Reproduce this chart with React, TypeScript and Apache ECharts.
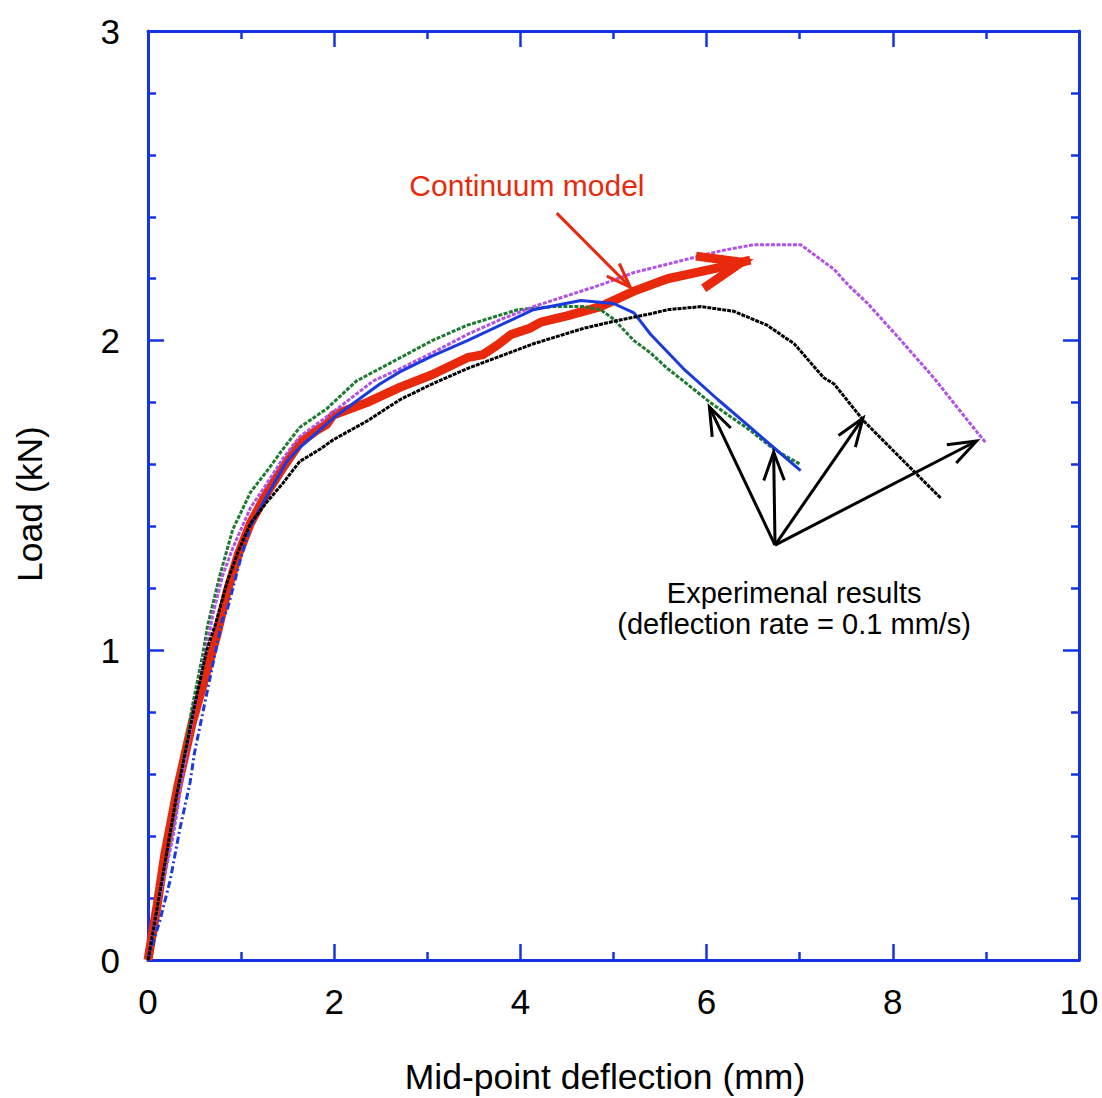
import React, { useEffect, useRef } from "react";
import * as echarts from "echarts";

// ---------- data (x: mid-point deflection mm, y: load kN) ----------
const MODEL: [number, number][] = [
  [0, 0], [0.05, 0.09], [0.1, 0.18], [0.18, 0.34], [0.32, 0.56], [0.47, 0.76], [0.61, 0.91],
  [0.74, 1.05], [0.85, 1.19], [0.97, 1.31], [1.1, 1.41], [1.28, 1.51], [1.45, 1.59], [1.63, 1.67],
  [1.81, 1.71], [1.92, 1.73], [1.99, 1.76], [2.35, 1.8], [2.71, 1.85], [3.05, 1.89], [3.43, 1.945],
  [3.6, 1.955], [3.75, 1.985], [3.9, 2.02], [4.1, 2.04], [4.22, 2.06], [4.5, 2.08], [4.86, 2.11],
  [5.22, 2.16], [5.58, 2.2], [6.12, 2.235], [6.47, 2.26],
];

const EXP_GREEN: [number, number][] = [
  [0, 0], [0.11, 0.18], [0.26, 0.4], [0.37, 0.62], [0.47, 0.81], [0.59, 0.99], [0.64, 1.08],
  [0.77, 1.24], [0.91, 1.39], [1.1, 1.51], [1.28, 1.58], [1.45, 1.65], [1.63, 1.72], [1.92, 1.78],
  [2.24, 1.87], [2.71, 1.945], [3.05, 2.0], [3.43, 2.05], [3.97, 2.1], [4.35, 2.11], [4.68, 2.11],
  [4.86, 2.1], [5.0, 2.07], [5.22, 2.0], [5.4, 1.96], [5.58, 1.91], [5.75, 1.87], [6.04, 1.8],
  [6.47, 1.71], [6.72, 1.65], [7.01, 1.6],
];

const EXP_PURPLE: [number, number][] = [
  [0, 0], [0.11, 0.18], [0.27, 0.4], [0.38, 0.61], [0.49, 0.8], [0.61, 0.98], [0.7, 1.12],
  [0.8, 1.24], [0.91, 1.33], [1.1, 1.46], [1.28, 1.54], [1.45, 1.62], [1.63, 1.69], [1.99, 1.77],
  [2.42, 1.87], [2.71, 1.91], [3.05, 1.96], [3.43, 2.02], [3.8, 2.07], [4.14, 2.11], [4.5, 2.145],
  [4.86, 2.18], [5.22, 2.22], [5.75, 2.26], [6.15, 2.29], [6.51, 2.31], [7.01, 2.31], [7.19, 2.27],
  [7.37, 2.23], [7.52, 2.18], [7.73, 2.12], [8.09, 2.0], [8.44, 1.88], [8.81, 1.74], [9.0, 1.67],
];

const EXP_BLUE_START: [number, number][] = [
  [0, 0], [0.13, 0.13], [0.24, 0.26], [0.34, 0.42], [0.45, 0.57], [0.5, 0.67], [0.61, 0.83],
  [0.7, 0.96], [0.8, 1.1], [0.85, 1.13], [0.99, 1.29], [1.1, 1.4],
];

const EXP_BLUE: [number, number][] = [
  [1.1, 1.4], [1.28, 1.5], [1.49, 1.61], [1.63, 1.655], [1.99, 1.75], [2.49, 1.86], [2.71, 1.9],
  [3.05, 1.95], [3.43, 2.0], [4.14, 2.1], [4.65, 2.13], [5.0, 2.12], [5.22, 2.09], [5.4, 2.02],
  [5.75, 1.91], [6.12, 1.81], [6.47, 1.72], [6.72, 1.655], [7.01, 1.58],
];

const EXP_BLACK: [number, number][] = [
  [0, 0], [0.1, 0.17], [0.3, 0.52], [0.5, 0.82], [0.63, 1.0], [0.72, 1.08], [0.85, 1.22],
  [0.97, 1.32], [1.1, 1.41], [1.28, 1.48], [1.45, 1.54], [1.63, 1.61], [1.85, 1.65], [1.99, 1.68],
  [2.35, 1.74], [2.71, 1.81], [3.05, 1.86], [3.43, 1.91], [4.14, 1.99], [4.68, 2.04], [5.04, 2.065],
  [5.4, 2.087], [5.58, 2.1], [5.94, 2.11], [6.29, 2.095], [6.65, 2.05], [6.94, 1.99], [7.26, 1.88],
  [7.37, 1.86], [7.69, 1.74], [8.12, 1.61], [8.52, 1.49],
];

// annotation anchors (data coordinates)
const MODEL_LABEL_POS: [number, number] = [4.07, 2.5];
const MODEL_POINTER: [[number, number], [number, number]] = [[4.39, 2.412], [5.18, 2.173]];
const EXP_LABEL_POS: [number, number] = [6.94, 1.136];
const EXP_ORIGIN: [number, number] = [6.735, 1.34];
const EXP_TIPS: [number, number][] = [[6.03, 1.786], [6.72, 1.64], [7.68, 1.75], [8.9, 1.676]];

const X_NAME = "Mid-point deflection (mm)";
const Y_NAME = "Load (kN)";
const MODEL_LABEL = "Continuum model";
const EXP_LABEL = "Experimenal results\n(deflection rate = 0.1 mm/s)";

const AXIS_BLUE = "#1434e4";
const RED = "#e8290b";
const FONT = '"Liberation Sans", Arial, Helvetica, sans-serif';

function axis(pos: string, labels: boolean, range: any, split: number, margin: number) {
  return {
    type: "value",
    position: pos,
    ...range,
    axisLine: { show: true, onZero: false, lineStyle: { color: AXIS_BLUE, width: 3 } },
    axisTick: { show: true, inside: true, length: 16, lineStyle: { color: AXIS_BLUE, width: 2.5 } },
    minorTick: { show: true, splitNumber: split, length: 8, lineStyle: { color: AXIS_BLUE, width: 2.5 } },
    splitLine: { show: false },
    minorSplitLine: { show: false },
    axisLabel: { show: labels, color: "#000", fontSize: 35, fontFamily: FONT, margin },
  };
}

export default function App() {
  const ref = useRef<HTMLDivElement>(null);

  useEffect(() => {
    document.body.style.margin = "0";
    const chart = echarts.init(ref.current!, null, { renderer: "svg" });

    const xRange = { min: 0, max: 10, interval: 2 };
    const yRange = { min: 0, max: 3, interval: 1 };

    const option: any = {
      animation: false,
      backgroundColor: "#fff",
      grid: { left: 148, right: 23, top: 31, bottom: 138, containLabel: false, outerBoundsMode: "none" },
      xAxis: [axis("bottom", true, xRange, 2, 24), axis("top", false, xRange, 2, 8)],
      yAxis: [axis("left", true, yRange, 5, 28), axis("right", false, yRange, 5, 8)],
      series: [
        {
          name: "model",
          type: "line",
          data: MODEL,
          symbol: "none",
          lineStyle: { color: RED, width: 9, join: "round", cap: "butt" },
          z: 2,
        },
        {
          name: "green",
          type: "line",
          data: EXP_GREEN,
          symbol: "none",
          lineStyle: { color: "#1d7a30", width: 3, type: [4, 1.5] },
          z: 3,
        },
        {
          name: "purple",
          type: "line",
          data: EXP_PURPLE,
          symbol: "none",
          lineStyle: { color: "#b152e6", width: 3, type: [4, 1.5] },
          z: 3,
        },
        {
          name: "blue-start",
          type: "line",
          data: EXP_BLUE_START,
          symbol: "none",
          lineStyle: { color: "#1a3ae0", width: 3, type: [7, 3, 2, 3] },
          z: 3,
        },
        {
          name: "blue",
          type: "line",
          data: EXP_BLUE,
          symbol: "none",
          lineStyle: { color: "#1a3ae0", width: 3 },
          z: 3,
        },
        {
          name: "black",
          type: "line",
          data: EXP_BLACK,
          symbol: "none",
          lineStyle: { color: "#000", width: 3, type: [4, 1] },
          z: 4,
        },
      ],
    };

    chart.setOption(option);

    const px = (p: [number, number]) => chart.convertToPixel({ gridIndex: 0 }, p) as number[];

    const barbs = (tip: number[], from: number[], len: number, angDeg: number) => {
      const dx = from[0] - tip[0];
      const dy = from[1] - tip[1];
      const d = Math.hypot(dx, dy) || 1;
      const ux = dx / d;
      const uy = dy / d;
      const a = (angDeg * Math.PI) / 180;
      const rot = (s: number) => [
        tip[0] + len * (ux * Math.cos(s * a) - uy * Math.sin(s * a)),
        tip[1] + len * (ux * Math.sin(s * a) + uy * Math.cos(s * a)),
      ];
      return [rot(1), tip, rot(-1)];
    };

    const elements: any[] = [];

    // axis titles
    elements.push({
      type: "text",
      x: 605,
      y: 1077,
      style: { text: X_NAME, fill: "#000", fontSize: 35.5, fontFamily: FONT, align: "center", verticalAlign: "middle" },
    });
    elements.push({
      type: "text",
      x: 30,
      y: 504,
      rotation: Math.PI / 2,
      style: { text: Y_NAME, fill: "#000", fontSize: 35.5, fontFamily: FONT, align: "center", verticalAlign: "middle" },
    });

    // model arrowhead (apex pulled back so the mitred point lands on the curve end)
    const mEnd = px(MODEL[MODEL.length - 1]);
    const mPrev = px(MODEL[MODEL.length - 2]);
    {
      const dx = mEnd[0] - mPrev[0];
      const dy = mEnd[1] - mPrev[1];
      const d = Math.hypot(dx, dy) || 1;
      const back = 9;
      const tip = [mEnd[0] - (dx / d) * back, mEnd[1] - (dy / d) * back];
      elements.push({
        type: "polyline",
        shape: { points: barbs(tip, mPrev, 46, 21) },
        style: { stroke: RED, lineWidth: 9, fill: null, lineJoin: "miter" },
        z: 50,
      });
    }

    // model label + pointer
    const ml = px(MODEL_LABEL_POS);
    elements.push({
      type: "text",
      x: ml[0],
      y: ml[1],
      style: { text: MODEL_LABEL, fill: RED, fontSize: 30, fontFamily: FONT, align: "center", verticalAlign: "middle" },
      z: 60,
    });
    const ps = px(MODEL_POINTER[0]);
    const pt = px(MODEL_POINTER[1]);
    elements.push({
      type: "line",
      shape: { x1: ps[0], y1: ps[1], x2: pt[0], y2: pt[1] },
      style: { stroke: RED, lineWidth: 3 },
      z: 60,
    });
    elements.push({
      type: "polyline",
      shape: { points: barbs(pt, ps, 26, 20) },
      style: { stroke: RED, lineWidth: 3, fill: null },
      z: 60,
    });

    // experimental label + arrows
    const el = px(EXP_LABEL_POS);
    elements.push({
      type: "text",
      x: el[0],
      y: el[1],
      style: {
        text: EXP_LABEL,
        fill: "#000",
        fontSize: 29,
        lineHeight: 31,
        fontFamily: FONT,
        align: "center",
        verticalAlign: "middle",
      },
      z: 60,
    });
    const eo = px(EXP_ORIGIN);
    EXP_TIPS.forEach((t) => {
      const tp = px(t);
      elements.push({
        type: "line",
        shape: { x1: eo[0], y1: eo[1], x2: tp[0], y2: tp[1] },
        style: { stroke: "#000", lineWidth: 3 },
        z: 60,
      });
      elements.push({
        type: "polyline",
        shape: { points: barbs(tp, eo, 30, 20) },
        style: { stroke: "#000", lineWidth: 3, fill: null },
        z: 60,
      });
    });

    chart.setOption({ graphic: elements });

    return () => chart.dispose();
  }, []);

  return <div ref={ref} style={{ width: 1102, height: 1098 }} />;
}
